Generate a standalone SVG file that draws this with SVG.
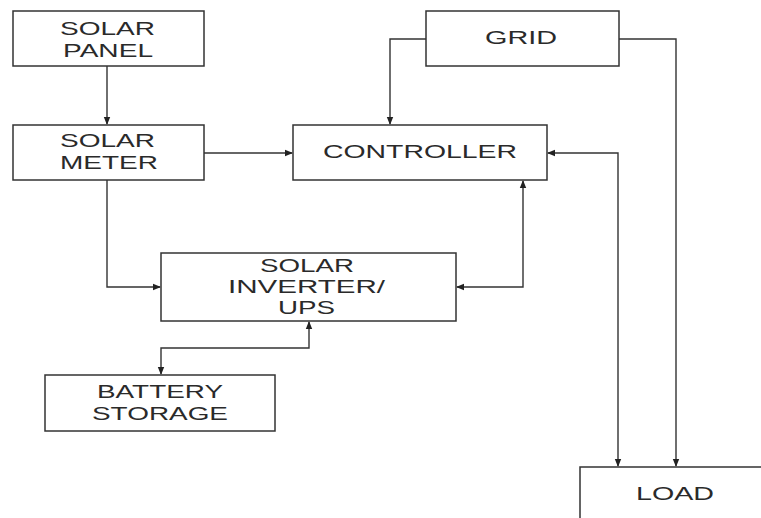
<svg xmlns="http://www.w3.org/2000/svg" width="761" height="518" viewBox="0 0 761 518">
<style>
.box{fill:#fff;stroke:#333;stroke-width:1.5}
.lbl{font-family:"Liberation Sans","DejaVu Sans",sans-serif;font-size:17.5px;fill:#2a2a2a}
.wire{fill:none;stroke:#333;stroke-width:1.4}
</style>
<defs>
<marker id="ah" markerWidth="8" markerHeight="8" refX="7" refY="4" orient="auto-start-reverse" markerUnits="userSpaceOnUse">
<path d="M0,0.8 L8,4 L0,7.2 Z" fill="#222"/>
</marker>
</defs>
<rect width="761" height="518" fill="#fff"/>
<g id="connectors">
<path class="wire" d="M107,66 V124" marker-end="url(#ah)"/>
<path class="wire" d="M204,153 H292" marker-end="url(#ah)"/>
<path class="wire" d="M426,39 H390 V124" marker-end="url(#ah)"/>
<path class="wire" d="M619,39 H676 V466" marker-end="url(#ah)"/>
<path class="wire" d="M548,153 H618 V466" marker-start="url(#ah)" marker-end="url(#ah)"/>
<path class="wire" d="M107,180 V287 H160" marker-end="url(#ah)"/>
<path class="wire" d="M523,181 V287 H457" marker-start="url(#ah)" marker-end="url(#ah)"/>
<path class="wire" d="M309,322 V348 H161 V374" marker-start="url(#ah)" marker-end="url(#ah)"/>
</g>
<g id="solar-panel">
<rect class="box" x="13" y="11" width="191" height="55"/>
<text class="lbl" x="60" y="35" textLength="95" lengthAdjust="spacingAndGlyphs">SOLAR</text>
<text class="lbl" x="63" y="57" textLength="90" lengthAdjust="spacingAndGlyphs">PANEL</text>
</g>
<g id="solar-meter">
<rect class="box" x="13" y="125" width="191" height="55"/>
<text class="lbl" x="60" y="147" textLength="95" lengthAdjust="spacingAndGlyphs">SOLAR</text>
<text class="lbl" x="60" y="169" textLength="98" lengthAdjust="spacingAndGlyphs">METER</text>
</g>
<g id="grid">
<rect class="box" x="426" y="11" width="193" height="55"/>
<text class="lbl" x="485" y="44" textLength="72" lengthAdjust="spacingAndGlyphs">GRID</text>
</g>
<g id="controller">
<rect class="box" x="293" y="125" width="254" height="55"/>
<text class="lbl" x="323" y="158" textLength="194" lengthAdjust="spacingAndGlyphs">CONTROLLER</text>
</g>
<g id="inverter">
<rect class="box" x="161" y="253" width="295" height="68"/>
<text class="lbl" x="260" y="272" textLength="94" lengthAdjust="spacingAndGlyphs">SOLAR</text>
<text class="lbl" x="228" y="293" textLength="157" lengthAdjust="spacingAndGlyphs">INVERTER/</text>
<text class="lbl" x="278" y="314" textLength="57" lengthAdjust="spacingAndGlyphs">UPS</text>
</g>
<g id="battery">
<rect class="box" x="45" y="375" width="230" height="56"/>
<text class="lbl" x="97" y="398" textLength="126" lengthAdjust="spacingAndGlyphs">BATTERY</text>
<text class="lbl" x="92" y="420" textLength="136" lengthAdjust="spacingAndGlyphs">STORAGE</text>
</g>
<g id="load">
<rect class="box" x="580" y="467" width="200" height="70"/>
<text class="lbl" x="636" y="500" textLength="78" lengthAdjust="spacingAndGlyphs">LOAD</text>
</g>
</svg>
